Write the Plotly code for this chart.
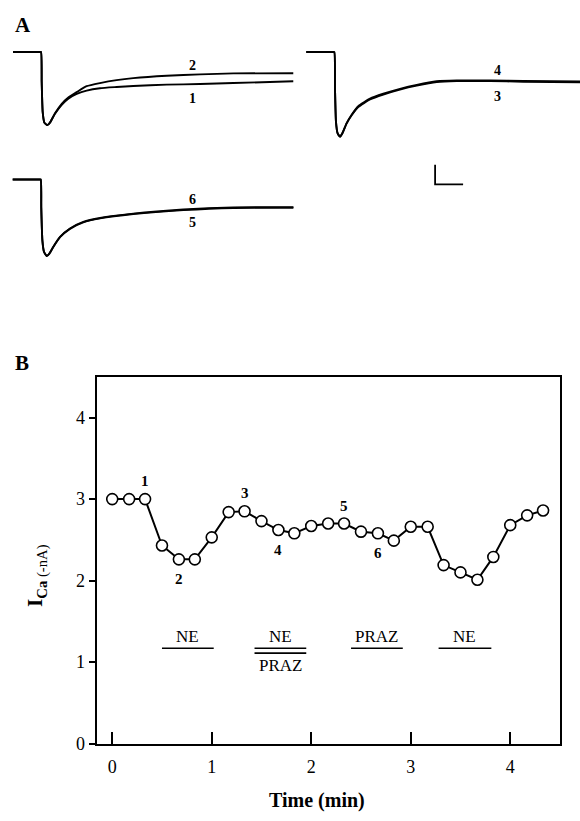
import plotly.graph_objects as go

W, H = 580, 821
FONT = "Liberation Serif"

# ---------------- Panel A: current traces (ms, nA relative to holding) ----------------
t_12 = [-20, -1, 0, 0.5, 1.2, 2.4, 4.5, 6.4, 10, 14.8, 19.5, 25.5, 32.6, 42.1, 54, 65.9, 89.8, 113.6, 137.4, 180.2]
i_1 = [0, 0, 0, -1.53, -3.03, -3.57, -3.70, -3.57, -3.12, -2.67, -2.36, -2.12, -1.95, -1.83, -1.77, -1.72, -1.65, -1.62, -1.57, -1.48]
i_2 = [0, 0, 0, -1.53, -3.03, -3.57, -3.70, -3.57, -3.10, -2.62, -2.30, -2.03, -1.73, -1.57, -1.42, -1.32, -1.20, -1.13, -1.08, -1.07]

t_34 = [-20, -1, 0, 0.5, 1.2, 2.4, 4.1, 5.7, 8.8, 12.4, 17.1, 25.5, 35, 46.9, 58.9, 73.1, 87.4, 111.2, 135, 178]
i_3 = [0, 0, 0, -1.87, -3.53, -4.12, -4.28, -4.12, -3.62, -3.20, -2.78, -2.40, -2.15, -1.90, -1.70, -1.52, -1.47, -1.47, -1.50, -1.53]
i_4 = [0, 0, 0, -1.87, -3.53, -4.12, -4.28, -4.12, -3.60, -3.17, -2.74, -2.36, -2.11, -1.86, -1.66, -1.48, -1.44, -1.44, -1.46, -1.49]

t_56 = [-20, -1, 0, 0.4, 1.2, 2.4, 4.3, 6.2, 9, 13.8, 20.9, 30.4, 42.4, 66.1, 101.9, 137.6, 180.5]
i_5 = [0, 0, 0, -1.42, -3.08, -3.67, -3.87, -3.75, -3.42, -2.92, -2.50, -2.17, -1.97, -1.75, -1.55, -1.44, -1.43]
i_6 = [0, 0, 0, -1.42, -3.08, -3.67, -3.87, -3.75, -3.40, -2.90, -2.48, -2.15, -1.95, -1.73, -1.52, -1.41, -1.40]

trace_labels = ["1", "2", "3", "4", "5", "6"]
trace_label_t = [108.4, 108.4, 116.4, 116.4, 108.6, 108.6]
trace_label_i = [-2.33, -0.70, -2.23, -0.95, -2.17, -1.00]
trace_label_axis = ["1", "1", "2", "2", "3", "3"]

scalebar_ms = 20
scalebar_nA = 1
scalebar_t0 = 72
scalebar_i0 = -5.7

# ---------------- Panel B: I_Ca vs time ----------------
time_min = [0, 0.17, 0.33, 0.5, 0.67, 0.83, 1.0, 1.17, 1.33, 1.5, 1.67, 1.83, 2.0, 2.17,
            2.33, 2.5, 2.67, 2.83, 3.0, 3.17, 3.33, 3.5, 3.67, 3.83, 4.0, 4.17, 4.33]
ica_nA = [3.0, 3.0, 3.0, 2.43, 2.26, 2.26, 2.53, 2.84, 2.85, 2.73, 2.62, 2.58, 2.67, 2.70,
          2.70, 2.60, 2.58, 2.49, 2.66, 2.66, 2.19, 2.10, 2.01, 2.29, 2.68, 2.80, 2.86]
point_labels = ["1", "2", "3", "4", "5", "6"]
point_label_idx = [2, 4, 8, 10, 14, 16]
point_label_pos = ["above", "below", "above", "below", "above", "below"]

bar_start = [0.50, 1.43, 2.40, 3.28]
bar_end = [1.02, 1.95, 2.92, 3.81]
bar_top_text = ["NE", "NE", "PRAZ", "NE"]
bar_bottom_text = ["", "PRAZ", "", ""]
bar_double = [False, True, False, False]
bar_level = 1.17

x_ticks = [0, 1, 2, 3, 4]
y_ticks = [0, 1, 2, 3, 4]

fig = go.Figure()


def px_x(p):
    return p / W


def px_y(p):
    return 1 - p / H


for t, ii, ax in [(t_12, i_1, "1"), (t_12, i_2, "1"), (t_34, i_3, "2"), (t_34, i_4, "2"),
                  (t_56, i_5, "3"), (t_56, i_6, "3")]:
    fig.add_trace(go.Scatter(x=t, y=ii, mode="lines",
                             line=dict(color="black", width=1.9, shape="spline", smoothing=0.5),
                             xaxis="x" + ax, yaxis="y" + ax, showlegend=False, hoverinfo="skip"))

fig.add_trace(go.Scatter(x=[scalebar_t0, scalebar_t0, scalebar_t0 + scalebar_ms],
                         y=[scalebar_i0, scalebar_i0 - scalebar_nA, scalebar_i0 - scalebar_nA],
                         mode="lines", line=dict(color="black", width=1.8),
                         xaxis="x2", yaxis="y2", showlegend=False, hoverinfo="skip"))

# Panel B data
fig.add_trace(go.Scatter(x=time_min, y=ica_nA, mode="lines+markers",
                         line=dict(color="black", width=2),
                         marker=dict(symbol="circle", size=11, color="white",
                                     line=dict(color="black", width=1.6)),
                         xaxis="x4", yaxis="y4", showlegend=False, hoverinfo="skip"))

# treatment bars
for s, e, dbl in zip(bar_start, bar_end, bar_double):
    fig.add_trace(go.Scatter(x=[s, e], y=[bar_level, bar_level], mode="lines",
                             line=dict(color="black", width=1.6), xaxis="x4", yaxis="y4",
                             showlegend=False, hoverinfo="skip"))
    if dbl:
        fig.add_trace(go.Scatter(x=[s, e], y=[bar_level - 0.06, bar_level - 0.06], mode="lines",
                                 line=dict(color="black", width=1.6), xaxis="x4", yaxis="y4",
                                 showlegend=False, hoverinfo="skip"))

annotations = []
for s, e, top, bot in zip(bar_start, bar_end, bar_top_text, bar_bottom_text):
    annotations.append(dict(x=(s + e) / 2, y=bar_level, xref="x4", yref="y4", text=top, showarrow=False,
                            xanchor="center", yanchor="bottom", yshift=0,
                            font=dict(family=FONT, size=17, color="black")))
    if bot:
        annotations.append(dict(x=(s + e) / 2, y=bar_level - 0.06, xref="x4", yref="y4", text=bot,
                                showarrow=False, xanchor="center", yanchor="top", yshift=-1,
                                font=dict(family=FONT, size=17, color="black")))

for lab, idx, pos in zip(point_labels, point_label_idx, point_label_pos):
    annotations.append(dict(x=time_min[idx], y=ica_nA[idx], xref="x4", yref="y4", text="<b>" + lab + "</b>",
                            showarrow=False, xanchor="center", yanchor="middle",
                            yshift=18 if pos == "above" else -20,
                            font=dict(family=FONT, size=15, color="black")))

for lab, tt, ii, ax in zip(trace_labels, trace_label_t, trace_label_i, trace_label_axis):
    annotations.append(dict(x=tt, y=ii, xref="x" + ax, yref="y" + ax, text="<b>" + lab + "</b>",
                            showarrow=False, xanchor="center", yanchor="middle",
                            font=dict(family=FONT, size=14, color="black")))

annotations += [
    dict(x=px_x(23), y=px_y(25), xref="paper", yref="paper", text="<b>A</b>", showarrow=False,
         xanchor="center", yanchor="middle", font=dict(family=FONT, size=21, color="black")),
    dict(x=px_x(22), y=px_y(367), xref="paper", yref="paper", text="<b>B</b>", showarrow=False,
         xanchor="center", yanchor="middle", font=dict(family=FONT, size=21, color="black")),
    dict(x=px_x(37), y=px_y(583), xref="paper", yref="paper",
         text="<b>I</b><sub><b>Ca</b> (-nA)</sub>", showarrow=False, textangle=-90,
         xanchor="center", yanchor="middle", font=dict(family=FONT, size=21, color="black")),
    dict(x=px_x(317), y=px_y(810), xref="paper", yref="paper", text="<b>Time (min)</b>", showarrow=False,
         xanchor="center", yanchor="middle", font=dict(family=FONT, size=20, color="black")),
]

hidden = dict(visible=False, showgrid=False, zeroline=False, fixedrange=True)
# trace panels share one scale: 1.4 px per ms, 20 px per nA
fig.update_layout(
    width=W, height=H, margin=dict(l=0, r=0, t=0, b=0),
    paper_bgcolor="white", plot_bgcolor="rgba(0,0,0,0)",
    xaxis1=dict(hidden, range=[-25, 185], domain=[px_x(6), px_x(300)], anchor="y1"),
    yaxis1=dict(hidden, range=[-5, 1], domain=[px_y(152.7), px_y(32.7)], anchor="x1"),
    xaxis2=dict(hidden, range=[-25, 175.5], domain=[px_x(299.3), 1.0], anchor="y2"),
    yaxis2=dict(hidden, range=[-7, 1], domain=[px_y(192.7), px_y(32.7)], anchor="x2"),
    xaxis3=dict(hidden, range=[-25, 185], domain=[px_x(5.7), px_x(299.7)], anchor="y3"),
    yaxis3=dict(hidden, range=[-5, 1], domain=[px_y(281.7), px_y(161.7)], anchor="x3"),
    xaxis4=dict(range=[-0.15, 4.5], domain=[px_x(97.3), px_x(560)], anchor="y4",
                showline=True, linecolor="black", linewidth=1.6, mirror=True,
                ticks="inside", ticklen=12, tickwidth=1.5, tickcolor="black",
                tickvals=x_ticks, ticktext=[str(v) for v in x_ticks],
                tickfont=dict(family=FONT, size=18, color="black"), ticklabelstandoff=6,
                showgrid=False, zeroline=False),
    yaxis4=dict(range=[0, 4.5], domain=[px_y(752.7), px_y(381.5)], anchor="x4",
                showline=True, linecolor="black", linewidth=1.6, mirror=True,
                ticks="outside", ticklen=7, tickwidth=1.5, tickcolor="black",
                tickvals=y_ticks, ticktext=[str(v) for v in y_ticks],
                tickfont=dict(family=FONT, size=18, color="black"),
                showgrid=False, zeroline=False),
    annotations=annotations,
)

fig.write_html("out.html")
